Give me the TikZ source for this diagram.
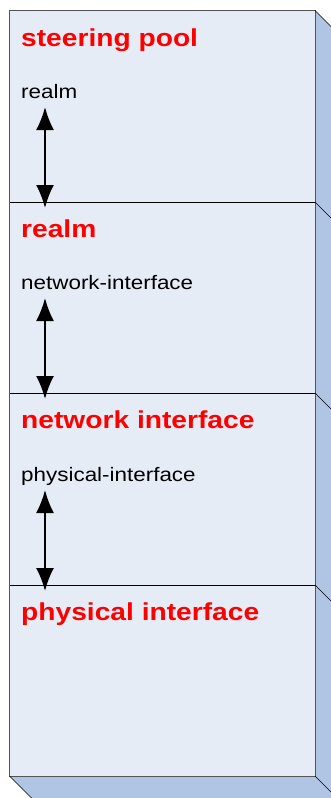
\documentclass[tikz,border=0pt]{standalone}
\usepackage{fontspec}
\setmainfont{Liberation Sans}[FakeStretch=1.15]
\usepackage{tikz}
\usetikzlibrary{arrows.meta}
\definecolor{face}{RGB}{230,236,246}
\definecolor{side}{RGB}{176,196,228}
\definecolor{edge}{RGB}{85,85,85}
\tikzset{
  >={Latex[length=23pt,width=18pt]},
}
\tikzstyle{title}=[anchor=base west,inner sep=0pt,text=red,font=\fontsize{24.5}{28}\selectfont\bfseries]
\tikzstyle{keyname}=[anchor=base west,inner sep=0pt,font=\fontsize{19.5}{22}\selectfont]
\tikzstyle{link}=[line width=2pt,<->]

\begin{document}
\begin{tikzpicture}[x=1pt,y=-1pt]
    \useasboundingbox (0,0) rectangle (331,798);
    \clip (0,0) rectangle (331,798);
    % box faces
    \fill[side] (315,10.5) -- (350,45.5) -- (350,811) -- (315,776) -- cycle;
    \fill[side] (9.5,776) -- (315,776) -- (350,811) -- (44.5,811) -- cycle;
    \draw[fill=face,draw=edge] (9.5,10.5) rectangle (315,776);
    \foreach \y in {10.5,202,393,585,776}
      \draw (315,\y) -- ++(35,35);
    \draw (9.5,776) -- ++(35,35);
    \foreach \y in {202,393,585}
      \draw (9.5,\y) -- (315,\y);
    % levels
    \node[title] (pool) at (21,46) {steering pool};
    \node[title] (realm) at (21,237) {realm};
    \node[title] (netif) at (21,428) {network interface};
    \node[title] (physif) at (21,620) {physical interface};
    \node[keyname] (realmkey) at (21,98) {realm};
    \node[keyname] (netifkey) at (21,289) {network-interface};
    \node[keyname] (physifkey) at (21,481) {physical-interface};
    \foreach \i/\y in {1/107,2/298,3/490}{
      \coordinate (up\i) at (45,\y);
      \coordinate (down\i) at (45,\y+101);
      \draw[link] (up\i) -- (down\i);
    }
\end{tikzpicture}
\end{document}
